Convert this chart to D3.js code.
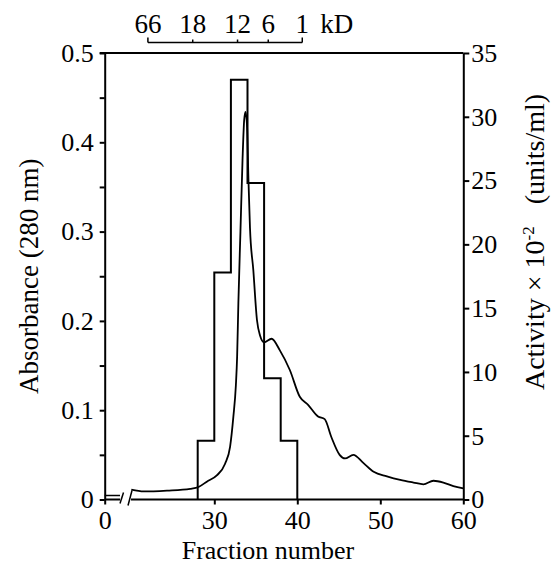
<!DOCTYPE html>
<html>
<head>
<meta charset="utf-8">
<script src="https://cdn.jsdelivr.net/npm/d3@7"></script>
<style>
  body { margin: 0; background: #fff; }
  svg text { font-family: "Liberation Serif", "Times New Roman", serif; fill: #000; }
</style>
</head>
<body>
<div id="chart"></div>
<script>
// absorbance trace (280 nm)
var fractions = [20, 21.5, 24.3, 27.1, 28.1, 29.1, 30.3, 31.3, 31.9, 32.3,
                 32.6, 32.75, 32.9, 33.15, 33.4, 33.6, 33.76, 33.95, 34.12, 34.3,
                 34.7, 35.14, 35.5, 36.0, 36.9, 37.9, 39.1, 40.3, 41.3, 42.5,
                 43.3, 44.1, 45.1, 45.75, 46.75, 47.95, 49.2, 50.8, 52.4, 54.0,
                 55.2, 56.4, 57.6, 58.8, 60];
var absorbance = [0.011, 0.009, 0.010, 0.012, 0.014, 0.020, 0.027, 0.040, 0.059, 0.093,
                  0.128, 0.160, 0.220, 0.300, 0.380, 0.425, 0.434, 0.417, 0.356, 0.304,
                  0.257, 0.201, 0.184, 0.176, 0.180, 0.167, 0.145, 0.115, 0.106, 0.093,
                  0.090, 0.070, 0.050, 0.046, 0.050, 0.041, 0.031, 0.026, 0.022, 0.019,
                  0.017, 0.021, 0.019, 0.015, 0.0125];

// activity histogram (pooled 2 fractions each)
var binStarts = [28, 30, 32, 34, 36, 38];
var binWidth = 2;
var activity = [4.6, 17.8, 32.9, 24.8, 9.5, 4.6];

// molecular weight markers
var kdLabels = ["66", "18", "12", "6", "1"];
var kdFractions = [22.0, 27.4, 32.8, 36.5, 40.6];

var xTicks = [0, 30, 40, 50, 60];
var leftTicks = [0, 0.05, 0.1, 0.15, 0.2, 0.25, 0.3, 0.35, 0.4, 0.45, 0.5];
var rightTicks = [0, 5, 10, 15, 20, 25, 30, 35];

var width = 551, height = 565;
var pL = 104.7, pR = 463.3, pT = 53, pB = 499.5;

var svg = d3.select("#chart").append("svg")
    .attr("width", width)
    .attr("height", height);

// axis is broken between 0 and 20
var x = d3.scaleLinear().domain([0, 20, 60]).range([pL, 131.3, pR]);
var yL = d3.scaleLinear().domain([0, 0.5]).range([pB, pT]);
var yR = d3.scaleLinear().domain([0, 35]).range([pB, pT]);

var fontSize = 26;

// left axis
var gL = svg.append("g")
    .attr("transform", "translate(" + pL + ",0)")
    .call(d3.axisLeft(yL).tickValues(leftTicks).tickSize(5).tickSizeOuter(0).tickPadding(6)
      .tickFormat(function(d) {
        var r = Math.round(d * 100);
        if (r % 10 !== 0) return "";
        return d === 0 ? "0" : d3.format(".1f")(d);
      }));

// right axis
var gR = svg.append("g")
    .attr("transform", "translate(" + pR + ",0)")
    .call(d3.axisRight(yR).tickValues(rightTicks).tickSize(6).tickSizeOuter(0).tickPadding(2));

// bottom axis (domain drawn by hand for the break)
var gB = svg.append("g")
    .attr("transform", "translate(0," + pB + ")")
    .call(d3.axisBottom(x).tickValues(xTicks).tickSize(5).tickPadding(6));
gB.select(".domain").remove();

[gL, gR, gB].forEach(function(g) {
  g.selectAll(".domain").attr("stroke", "#000").attr("stroke-width", 2);
  g.selectAll(".tick line").attr("stroke", "#000").attr("stroke-width", 2);
  g.selectAll(".tick text").style("font-size", fontSize + "px");
});

var axisLines = svg.append("g")
    .attr("stroke", "#000")
    .attr("stroke-width", 2)
    .attr("fill", "none");

// top frame line
axisLines.append("line")
    .attr("x1", pL - 5).attr("x2", pR)
    .attr("y1", pT).attr("y2", pT);

// bottom line with break
axisLines.append("line")
    .attr("x1", pL).attr("x2", 120)
    .attr("y1", pB).attr("y2", pB);
axisLines.append("line")
    .attr("x1", pL).attr("x2", 120)
    .attr("y1", pB - 4).attr("y2", pB - 4)
    .attr("stroke-width", 1.5);
axisLines.append("line")
    .attr("x1", 131).attr("x2", pR)
    .attr("y1", pB).attr("y2", pB);
axisLines.append("line")
    .attr("x1", 120).attr("y1", pB + 4)
    .attr("x2", 123.5).attr("y2", pB - 7)
    .attr("stroke-width", 1.5);
axisLines.append("line")
    .attr("x1", 128).attr("y1", pB + 6)
    .attr("x2", 132).attr("y2", pB - 9)
    .attr("stroke-width", 1.5);

// histogram outline
var histPts = [[binStarts[0], 0]];
binStarts.forEach(function(s, i) { histPts.push([s, activity[i]]); });
histPts.push([binStarts[binStarts.length - 1] + binWidth, 0]);

var stepLine = d3.line()
    .x(function(d) { return x(d[0]); })
    .y(function(d) { return yR(d[1]); })
    .curve(d3.curveStepAfter);

svg.append("path")
    .datum(histPts)
    .attr("d", stepLine)
    .attr("fill", "none")
    .attr("stroke", "#000")
    .attr("stroke-width", 2);

// absorbance curve
var trace = fractions.map(function(f, i) { return [f, absorbance[i]]; });
var curve = d3.line()
    .x(function(d) { return x(d[0]); })
    .y(function(d) { return yL(d[1]); })
    .curve(d3.curveMonotoneX);

svg.append("path")
    .datum(trace)
    .attr("d", curve)
    .attr("fill", "none")
    .attr("stroke", "#000")
    .attr("stroke-width", 1.8);

// kD marker scale
var kdY = 42.5;
var kd = svg.append("g");
kd.append("line")
    .attr("x1", x(kdFractions[0])).attr("x2", x(kdFractions[kdFractions.length - 1]))
    .attr("y1", kdY).attr("y2", kdY)
    .attr("stroke", "#000").attr("stroke-width", 1.5);
kd.selectAll(".kdtick").data(kdFractions)
  .enter().append("line")
    .attr("class", "kdtick")
    .attr("x1", function(d) { return x(d); })
    .attr("x2", function(d) { return x(d); })
    .attr("y1", kdY)
    .attr("y2", function(d, i) { return (i === 0 || i === kdFractions.length - 1) ? kdY - 5 : kdY - 3; })
    .attr("stroke", "#000").attr("stroke-width", 1.5);
kd.selectAll(".kdlab").data(kdLabels)
  .enter().append("text")
    .attr("class", "kdlab")
    .attr("x", function(d, i) { return x(kdFractions[i]); })
    .attr("y", 33)
    .attr("text-anchor", "middle")
    .style("font-size", "27px")
    .text(function(d) { return d; });
kd.append("text")
    .attr("x", x(kdFractions[kdFractions.length - 1]) + 18)
    .attr("y", 33)
    .style("font-size", "27px")
    .text("kD");

// axis titles
svg.append("text")
    .attr("x", 268)
    .attr("y", 559)
    .attr("text-anchor", "middle")
    .style("font-size", "26px")
    .text("Fraction number");

svg.append("text")
    .attr("transform", "translate(38," + ((pT + pB) / 2) + ") rotate(-90)")
    .attr("text-anchor", "middle")
    .style("font-size", "27px")
    .text("Absorbance (280 nm)");

var rt = svg.append("text")
    .attr("transform", "translate(544,242) rotate(-90)")
    .attr("text-anchor", "middle")
    .style("font-size", "28px");
rt.append("tspan").text("Activity \u00d7 10");
rt.append("tspan").attr("dy", -10).style("font-size", "17px").text("-2");
rt.append("tspan").attr("dy", 10).attr("dx", 22).text("(units/ml)");
</script>
</body>
</html>
